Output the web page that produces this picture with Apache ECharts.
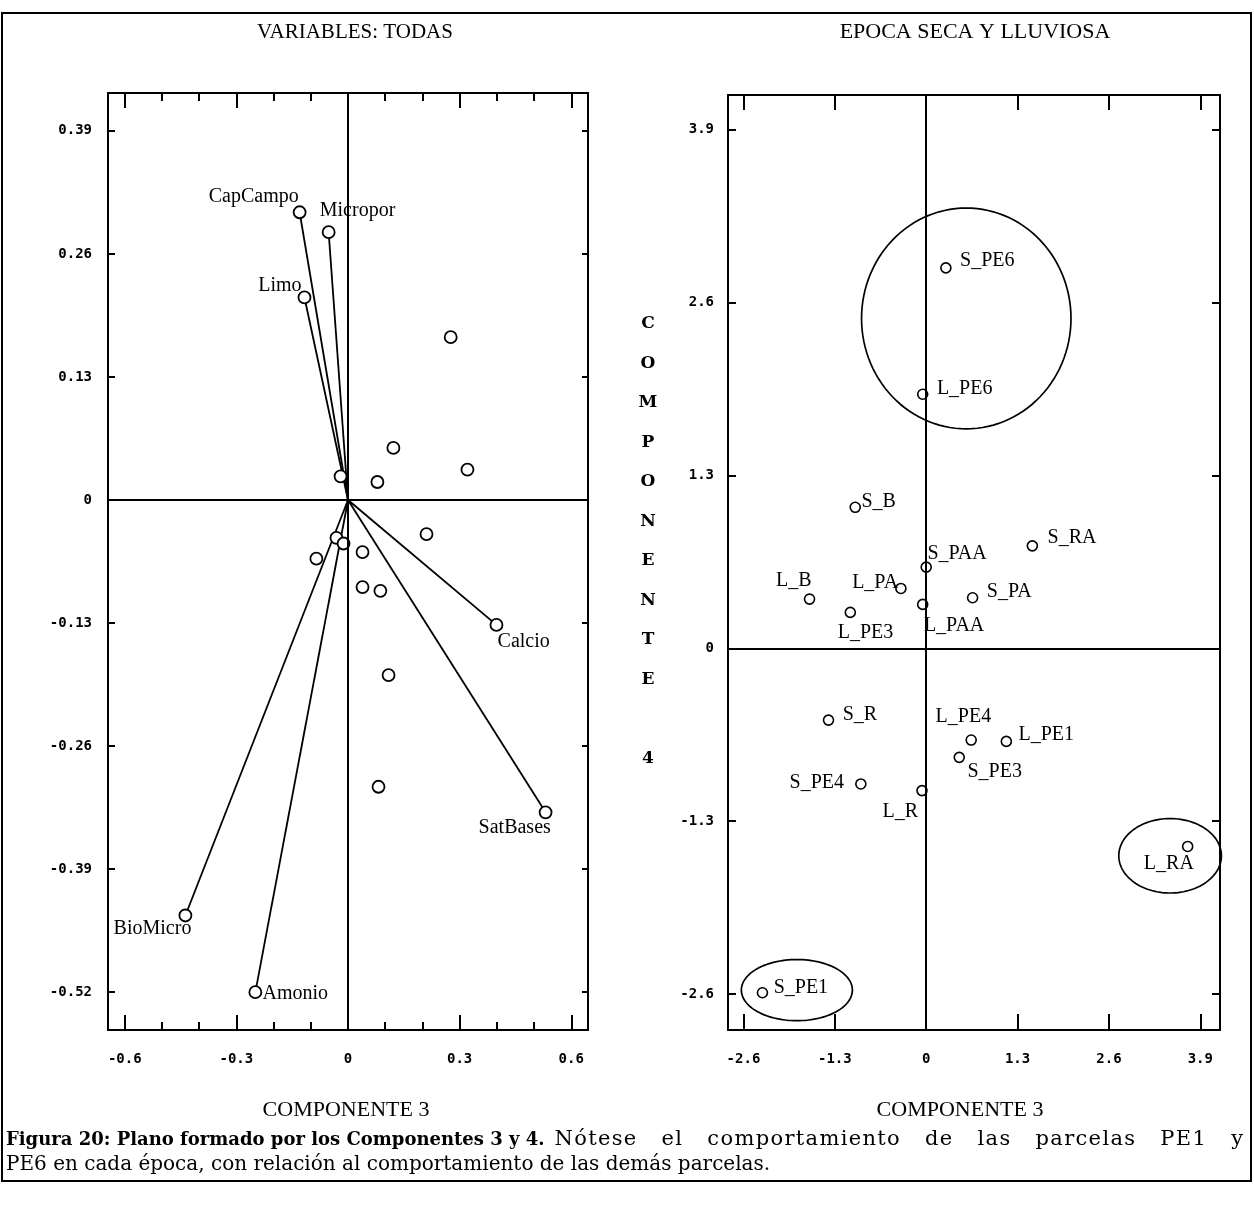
<!DOCTYPE html>
<html><head><meta charset="utf-8">
<script src="https://cdn.jsdelivr.net/npm/echarts@6/dist/echarts.min.js"></script>
<style>html,body{margin:0;padding:0;background:#fff}#c{width:1254px;height:1207px}</style>
</head><body><div id="c"></div>
<script>
// ---------- DATA ----------
// Left panel: variable vectors (Componente 3, Componente 4)
const leftVarNames = ['CapCampo', 'Micropor', 'Limo', 'BioMicro', 'Amonio', 'Calcio', 'SatBases'];
const leftVarX = [-0.130, -0.052, -0.117, -0.437, -0.249, 0.399, 0.531];
const leftVarY = [0.304, 0.283, 0.214, -0.439, -0.520, -0.132, -0.330];
// Left panel: unlabeled points
const leftObsX = [0.276, 0.122, 0.079, 0.321, -0.020, 0.211, -0.031, -0.012, -0.085, 0.039, 0.039, 0.087, 0.109, 0.082];
const leftObsY = [0.172, 0.055, 0.019, 0.032, 0.025, -0.036, -0.040, -0.046, -0.062, -0.055, -0.092, -0.096, -0.185, -0.303];
// Right panel: plots per season
const rightNames = ['S_PE6', 'L_PE6', 'S_B', 'S_RA', 'S_PAA', 'L_PA', 'L_B', 'S_PA', 'L_PAA', 'L_PE3', 'S_R', 'L_PE4', 'L_PE1', 'S_PE3', 'S_PE4', 'L_R', 'L_RA', 'S_PE1'];
const rightX = [0.28, -0.05, -1.01, 1.51, 0.00, -0.36, -1.66, 0.66, -0.05, -1.08, -1.39, 0.64, 1.14, 0.47, -0.93, -0.06, 3.72, -2.33];
const rightY = [2.86, 1.91, 1.06, 0.77, 0.61, 0.45, 0.37, 0.38, 0.33, 0.27, -0.54, -0.69, -0.70, -0.82, -1.02, -1.07, -1.49, -2.59];
// Right panel: highlight ellipses (center x, center y, radius x, radius y)
const ellipseCX = [0.57, 3.47, -1.84];
const ellipseCY = [2.48, -1.56, -2.57];
const ellipseRX = [1.49, 0.73, 0.79];
const ellipseRY = [0.83, 0.28, 0.23];
// Tick labels
const leftXTicks = [-0.6, -0.3, 0, 0.3, 0.6];
const leftXMinorTicks = [-0.5, -0.4, -0.2, -0.1, 0.1, 0.2, 0.4, 0.5];
const leftYTicks = [-0.52, -0.39, -0.26, -0.13, 0, 0.13, 0.26, 0.39];
const rightTicks = [-2.6, -1.3, 0, 1.3, 2.6, 3.9];

// ---------- STYLE (label placement: dx, dy, align) ----------
const leftLabelPlace = {
  CapCampo: [0, -15, 'right'], Micropor: [-8, -20, 'left'], Limo: [-2, -11, 'right'],
  BioMicro: [-32, 14, 'center'], Amonio: [8, 3, 'left'], Calcio: [2, 18, 'left'], SatBases: [-30, 16, 'center']
};
const rightLabelPlace = {
  S_PE6: [15, -6, 'left'], L_PE6: [15, -5, 'left'], S_B: [7, -5, 'left'], S_RA: [16, -7, 'left'],
  S_PAA: [2, -13, 'left'], L_PA: [-2, -5, 'right'], L_B: [-15, -18, 'center'], S_PA: [15, -5, 'left'],
  L_PAA: [2, 22, 'left'], L_PE3: [16, 21, 'center'], S_R: [15, -5, 'left'], L_PE4: [-7, -23, 'center'],
  L_PE1: [13, -6, 'left'], S_PE3: [9, 15, 'left'], S_PE4: [-16, 0, 'right'], L_R: [-21, 22, 'center'],
  L_RA: [-18, 18, 'center'], S_PE1: [12, -4, 'left']
};

const SERIF = '"Liberation Serif", "Times New Roman", serif';
const tickFont = { fontFamily: '"DejaVu Sans Mono", monospace', fontWeight: 'bold', fontSize: 14, color: '#000' };
const fmt = v => String(+(+v).toFixed(2));

function mkLabel(place, size) {
  const h = size / 2;
  return {
    show: true, position: [h + place[0], h + place[1]], align: place[2], verticalAlign: 'middle',
    fontFamily: SERIF, fontSize: 20, color: '#000'
  };
}

function mkAxis(gridIndex, position, min, max, tickVals, tickLen, labelVals, showLine, margin) {
  return {
    type: 'value', gridIndex, position, min, max, offset: 0, scale: false,
    axisLine: { show: showLine, onZero: false, lineStyle: { color: '#000', width: 2 } },
    axisTick: { show: true, inside: true, length: tickLen, customValues: tickVals, lineStyle: { color: '#000', width: 2 } },
    axisLabel: labelVals ? Object.assign({ show: true, customValues: labelVals, formatter: fmt, margin: margin }, tickFont) : { show: false },
    splitLine: { show: false }, splitArea: { show: false }
  };
}

const LX = [-0.645, 0.645], LY = [-0.56, 0.43];
const RX = [-2.82, 4.18], RY = [-2.87, 4.16];

const xAxes = [
  mkAxis(0, 'bottom', LX[0], LX[1], leftXTicks, 15, leftXTicks, true, 22),
  mkAxis(0, 'bottom', LX[0], LX[1], leftXMinorTicks, 8, null, false),
  mkAxis(0, 'top', LX[0], LX[1], leftXTicks, 15, null, true),
  mkAxis(0, 'top', LX[0], LX[1], leftXMinorTicks, 8, null, false),
  mkAxis(1, 'bottom', RX[0], RX[1], rightTicks, 16, rightTicks, true, 22),
  mkAxis(1, 'top', RX[0], RX[1], rightTicks, 15, null, true)
];
const yAxes = [
  mkAxis(0, 'left', LY[0], LY[1], leftYTicks, 7, leftYTicks, true, 16),
  mkAxis(0, 'right', LY[0], LY[1], leftYTicks, 6, null, true),
  mkAxis(1, 'left', RY[0], RY[1], rightTicks, 8, rightTicks, true, 14),
  mkAxis(1, 'right', RY[0], RY[1], rightTicks, 8, null, true)
];

const series = [];
// vectors
leftVarNames.forEach((n, i) => {
  series.push({
    type: 'line', xAxisIndex: 0, yAxisIndex: 0, data: [[0, 0], [leftVarX[i], leftVarY[i]]],
    symbol: 'none', lineStyle: { color: '#000', width: 1.8 }, silent: true, z: 2
  });
});
const zeroLines = {
  silent: true, symbol: ['none', 'none'], label: { show: false },
  lineStyle: { color: '#000', width: 2, type: 'solid' }, data: [{ xAxis: 0 }, { yAxis: 0 }]
};
const LS = 12, RS = 10;
const leftData = leftVarNames.map((n, i) => ({ name: n, value: [leftVarX[i], leftVarY[i]], label: mkLabel(leftLabelPlace[n], LS) }))
  .concat(leftObsX.map((x, i) => ({ value: [x, leftObsY[i]], label: { show: false } })));
series.push({
  type: 'scatter', xAxisIndex: 0, yAxisIndex: 0, data: leftData, symbol: 'circle', symbolSize: LS,
  itemStyle: { color: '#fff', borderColor: '#000', borderWidth: 1.8, opacity: 1 },
  label: { formatter: p => p.name }, z: 3, markLine: zeroLines, emphasis: { disabled: true }
});
const rightData = rightNames.map((n, i) => ({ name: n, value: [rightX[i], rightY[i]], label: mkLabel(rightLabelPlace[n], RS) }));
series.push({
  type: 'scatter', xAxisIndex: 4, yAxisIndex: 2, data: rightData, symbol: 'circle', symbolSize: RS,
  itemStyle: { color: '#fff', borderColor: '#000', borderWidth: 1.6, opacity: 1 },
  label: { formatter: p => p.name }, z: 3, markLine: zeroLines, emphasis: { disabled: true }
});
series.push({
  type: 'custom', xAxisIndex: 4, yAxisIndex: 2, silent: true, z: 2,
  data: ellipseCX.map((c, i) => [c, ellipseCY[i], ellipseRX[i], ellipseRY[i]]),
  encode: { x: 0, y: 1 },
  renderItem: function (params, api) {
    const c = api.coord([api.value(0), api.value(1)]);
    const sx = api.size([api.value(2), 0])[0];
    const sy = api.size([0, api.value(3)])[1];
    const pts = [];
    for (let k = 0; k < 120; k++) {
      const t = k / 120 * 2 * Math.PI;
      pts.push([c[0] + sx * Math.cos(t), c[1] + sy * Math.sin(t)]);
    }
    return { type: 'polygon', shape: { points: pts }, style: { fill: 'none', stroke: '#000', lineWidth: 1.7 } };
  }
});

// ---------- TEXT (graphic) ----------
const graphics = [];
function txt(t, x, y, font, align) {
  graphics.push({ type: 'text', x, y, silent: true,
    style: { text: t, font, fill: '#000', textAlign: align || 'center', textVerticalAlign: 'middle', align: align || 'center', verticalAlign: 'middle' } });
}
graphics.push({ type: 'rect', silent: true, shape: { x: 2, y: 13, width: 1249, height: 1168 }, style: { fill: 'none', stroke: '#000', lineWidth: 2 } });
txt('VARIABLES: TODAS', 355, 32, '21px ' + SERIF);
txt('EPOCA SECA Y LLUVIOSA', 975, 32, '22px ' + SERIF);
txt('COMPONENTE 3', 346, 1110, '22px ' + SERIF);
txt('COMPONENTE 3', 960, 1110, '22px ' + SERIF);
graphics.push({ type: 'text', x: 648, y: 304, silent: true,
  style: { text: 'C\nO\nM\nP\nO\nN\nE\nN\nT\nE\n\n4', font: 'bold 17px "DejaVu Serif", serif', lineHeight: 39.5,
    fill: '#000', textAlign: 'center', align: 'center', textVerticalAlign: 'top', verticalAlign: 'top' } });

// caption: bold part set naturally, regular part of line 1 justified (letters + word gaps)
const capBold = 'Figura 20: Plano formado por los Componentes 3 y 4.';
const capReg1 = 'Nótese el comportamiento de las parcelas PE1 y';
const capReg2 = 'PE6 en cada época, con relación al comportamiento de las demás parcelas.';
const fBold = 'bold 18px "DejaVu Serif", serif';
const fReg1 = '21px "DejaVu Serif", serif';
const fReg = '20px "DejaVu Serif", serif';
const ctx = document.createElement('canvas').getContext('2d');
const x0 = 6, x1 = 1243;
ctx.font = fBold;
const boldW = ctx.measureText(capBold).width;
txt(capBold, x0, 1140, fBold, 'left');
ctx.font = fReg1;
const chars = Array.from(capReg1).map(ch => [ch, ctx.measureText(ch).width]);
const regStart = x0 + boldW + 10;
const regTot = chars.reduce((s, c) => s + c[1], 0);
const nSpaces = chars.filter(c => c[0] === ' ').length;
const E = x1 - regStart - regTot;
const perChar = 0.35 * E / (chars.length - 1);
const perSpace = 0.65 * E / nSpaces;
let cx = regStart;
chars.forEach(c => {
  if (c[0] !== ' ') txt(c[0], cx, 1140, fReg1, 'left');
  cx += c[1] + perChar + (c[0] === ' ' ? perSpace : 0);
});
txt(capReg2, x0, 1165, fReg, 'left');

const chart = echarts.init(document.getElementById('c'), null, { renderer: 'canvas' });
chart.setOption({
  animation: false,
  backgroundColor: '#fff',
  grid: [
    { left: 108, top: 93, width: 480, height: 937, outerBoundsMode: 'none' },
    { left: 728, top: 95, width: 492, height: 935, outerBoundsMode: 'none' }
  ],
  xAxis: xAxes,
  yAxis: yAxes,
  series: series,
  graphic: graphics
});
</script></body></html>
